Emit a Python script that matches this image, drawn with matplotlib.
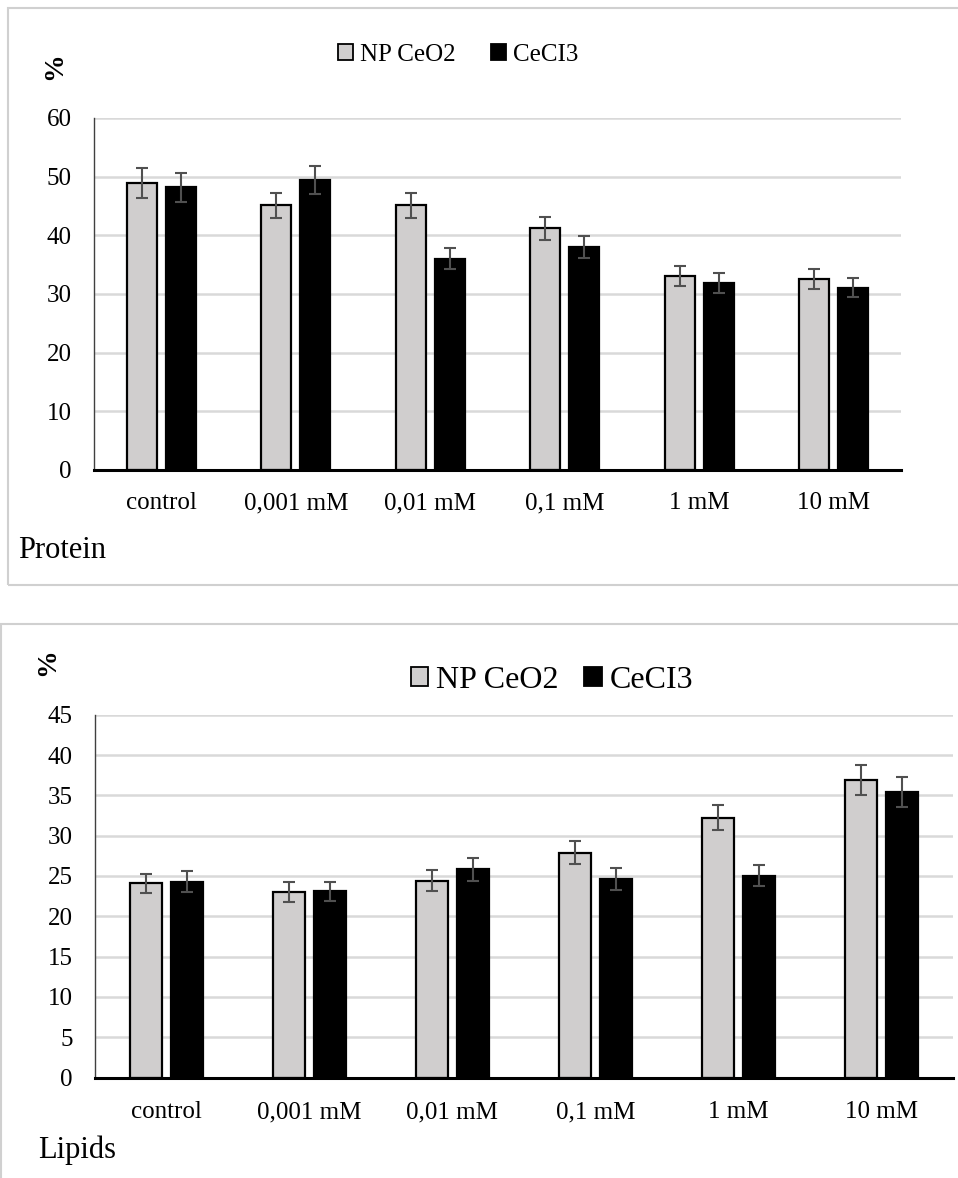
import numpy as np
import matplotlib
matplotlib.use("Agg")
from matplotlib import pyplot as plt
from matplotlib.patches import Rectangle, Patch

plt.rcParams['font.family'] = ['Liberation Serif', 'DejaVu Serif']

categories = ['control', '0,001 mM', '0,01 mM', '0,1 mM', '1 mM', '10 mM']
series_names = ['NP CeO2', 'CeCI3']

protein_ceo2 = [48.9, 45.1, 45.1, 41.2, 33.0, 32.5]
protein_ceo2_err = [2.5, 2.2, 2.2, 1.95, 1.7, 1.7]
protein_cecl3 = [48.2, 49.4, 36.0, 38.0, 31.9, 31.1]
protein_cecl3_err = [2.5, 2.4, 1.8, 1.85, 1.7, 1.6]

lipid_ceo2 = [24.1, 23.0, 24.4, 27.9, 32.2, 36.9]
lipid_ceo2_err = [1.2, 1.2, 1.3, 1.45, 1.55, 1.9]
lipid_cecl3 = [24.3, 23.1, 25.8, 24.6, 25.0, 35.4]
lipid_cecl3_err = [1.35, 1.2, 1.4, 1.4, 1.3, 1.85]

W, H = 958, 1178
fig = plt.figure(figsize=(W / 100, H / 100), dpi=100)

GRAY = '#D0CECE'
ERR = '#505050'
GRID = '#D9D9D9'


def fx(px):
    return px / W


def fy(py):
    return 1 - py / H


# panel frames (right side runs off the picture)
fig.patches.append(Rectangle((fx(8), fy(585)), fx(980 - 8), fy(8) - fy(585),
                             transform=fig.transFigure, fill=False,
                             edgecolor='#D0D0D0', lw=1.5))
fig.patches.append(Rectangle((fx(0.5), fy(1190)), fx(980), fy(624) - fy(1190),
                             transform=fig.transFigure, fill=False,
                             edgecolor='#D0D0D0', lw=1.5))


def draw(ax, a, ae, b, be, ymax, step, xpad):
    x = np.arange(len(categories))
    w, off = 0.225, 0.145
    ax.bar(x - off, a, w, color=GRAY, edgecolor='black', lw=1.6, zorder=3)
    ax.bar(x + off, b, w, color='black', edgecolor='black', lw=1.6, zorder=3)
    ax.errorbar(x - off, a, yerr=ae, fmt='none', ecolor=ERR, elinewidth=1.5,
                capsize=4, capthick=1.5, zorder=4)
    ax.errorbar(x + off, b, yerr=be, fmt='none', ecolor=ERR, elinewidth=1.5,
                capsize=4, capthick=1.5, zorder=4)
    ax.set_xlim(-0.5, len(categories) - 0.5)
    ax.set_ylim(0, ymax)
    ax.set_yticks(np.arange(0, ymax + 0.1, step))
    ax.set_xticks(x)
    ax.set_xticklabels(categories, fontsize=18)
    ax.tick_params(axis='y', length=0, pad=16, labelsize=18)
    ax.tick_params(axis='x', length=0, pad=xpad)
    ax.yaxis.grid(True, color=GRID, lw=1.8, zorder=0)
    ax.set_axisbelow(True)
    for s in ['top', 'right']:
        ax.spines[s].set_visible(False)
    ax.spines['left'].set_color('#404040')
    ax.spines['left'].set_linewidth(1.0)
    ax.spines['bottom'].set_color('black')
    ax.spines['bottom'].set_linewidth(2.2)
    ax.spines['bottom'].set_zorder(5)


ax1 = fig.add_axes([fx(94), fy(470), fx(901 - 94), fy(118) - fy(470)])
draw(ax1, protein_ceo2, protein_ceo2_err, protein_cecl3, protein_cecl3_err, 60, 10, 16)

ax2 = fig.add_axes([fx(95), fy(1077.5), fx(953 - 95), fy(714.7) - fy(1077.5)])
draw(ax2, lipid_ceo2, lipid_ceo2_err, lipid_cecl3, lipid_cecl3_err, 45, 5, 17)

handles = [Patch(facecolor=GRAY, edgecolor='black', lw=1.3),
           Patch(facecolor='black', edgecolor='black', lw=1.3)]
fig.legend(handles, series_names, loc='center', bbox_to_anchor=(fx(458), fy(55)),
           ncol=2, frameon=False, fontsize=18, handlelength=0.6, handleheight=0.6,
           handletextpad=0.3, columnspacing=1.4, borderaxespad=0, borderpad=0)
fig.legend(handles, series_names, loc='center', bbox_to_anchor=(fx(552), fy(680)),
           ncol=2, frameon=False, fontsize=23, handlelength=0.55, handleheight=0.55,
           handletextpad=0.25, columnspacing=0.8, borderaxespad=0, borderpad=0)

fig.text(fx(55), fy(66), '%', rotation=90, fontsize=20, fontweight='bold',
         ha='center', va='center')
fig.text(fx(48), fy(662), '%', rotation=90, fontsize=20, fontweight='bold',
         ha='center', va='center')
fig.text(fx(18), fy(550), 'Protein', fontsize=22, ha='left', va='center')
fig.text(fx(38), fy(1150), 'Lipids', fontsize=22, ha='left', va='center')

fig.savefig('out.png', dpi=100)
